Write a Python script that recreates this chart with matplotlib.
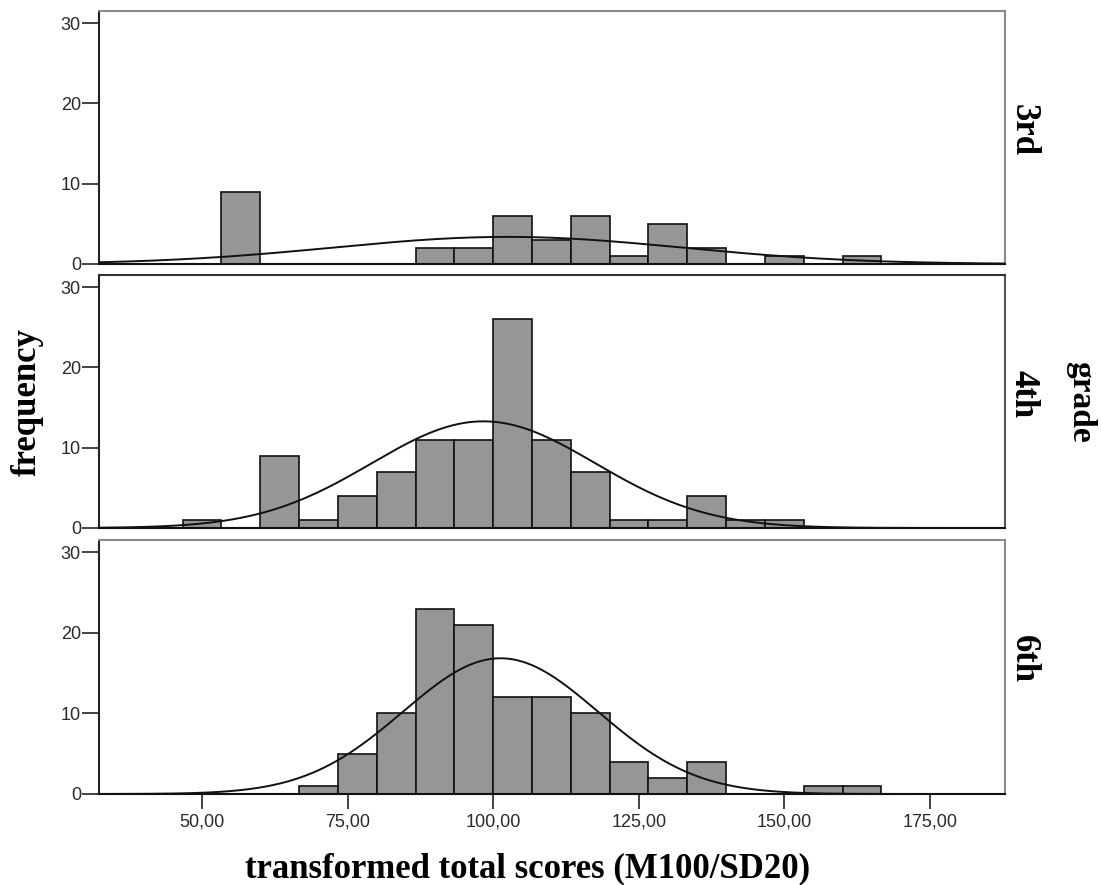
import numpy as np
import matplotlib
matplotlib.use("Agg")
import matplotlib.pyplot as plt

# ---- data ----
bin_width = 20.0 / 3.0
bin_starts = [46.67, 53.33, 60.00, 66.67, 73.33, 80.00, 86.67, 93.33, 100.00,
              106.67, 113.33, 120.00, 126.67, 133.33, 140.00, 146.67, 153.33, 160.00]
grades = ["3rd", "4th", "6th"]
counts_3rd = [0, 9, 0, 0, 0, 0, 2, 2, 6, 3, 6, 1, 5, 2, 0, 1, 0, 1]
counts_4th = [1, 0, 9, 1, 4, 7, 11, 11, 26, 11, 7, 1, 1, 4, 1, 1, 0, 0]
counts_6th = [0, 0, 0, 1, 5, 10, 23, 21, 12, 12, 10, 4, 2, 4, 0, 0, 1, 1]
all_counts = [counts_3rd, counts_4th, counts_6th]
x_ticks = [50, 75, 100, 125, 150, 175]
x_tick_labels = ["50,00", "75,00", "100,00", "125,00", "150,00", "175,00"]
y_ticks = [0, 10, 20, 30]

xlim = (32.3, 187.9)
ylim = (0, 31.5)

W, H = 1101, 885
fig = plt.figure(figsize=(W / 100, H / 100), dpi=100)

def ax_rect(top_px, bot_px, left_px=99, right_px=1005):
    return [left_px / W, (H - bot_px) / H, (right_px - left_px) / W, (bot_px - top_px) / H]

rects = [ax_rect(11, 264), ax_rect(275, 528), ax_rect(540, 794)]
serif = ["Liberation Serif", "DejaVu Serif"]
sans = ["Liberation Sans", "DejaVu Sans"]
top_colors = ["#8a8a8a", "#333333", "#8a8a8a"]
right_colors = ["#8a8a8a", "#555555", "#8a8a8a"]

starts = np.array(bin_starts)
mids = starts + bin_width / 2
xs = np.linspace(xlim[0], xlim[1], 600)

for i, (cnts, g) in enumerate(zip(all_counts, grades)):
    ax = fig.add_axes(rects[i])
    c = np.array(cnts, dtype=float)
    mask = c > 0
    ax.bar(starts[mask], c[mask], width=bin_width, align="edge",
           color="#969696", edgecolor="#111111", linewidth=1.2, zorder=2)
    # fitted normal curve
    n = c.sum()
    mu = (c * mids).sum() / n
    sd = np.sqrt((c * (mids - mu) ** 2).sum() / (n - 1))
    ys = n * bin_width / (sd * np.sqrt(2 * np.pi)) * np.exp(-0.5 * ((xs - mu) / sd) ** 2)
    ax.plot(xs, ys, color="#111111", linewidth=1.4, zorder=3)

    ax.set_xlim(*xlim)
    ax.set_ylim(*ylim)
    ax.set_yticks(y_ticks)
    ax.set_yticklabels([str(t) for t in y_ticks], fontfamily=sans, fontsize=13, color="#2a2a2a")
    ax.tick_params(axis="y", direction="out", length=12, width=1.2, color="#222222", pad=1)
    ax.spines["left"].set_color("#222222")
    ax.spines["bottom"].set_color("#111111")
    ax.spines["top"].set_color(top_colors[i])
    ax.spines["right"].set_color(right_colors[i])
    for s in ax.spines.values():
        s.set_linewidth(1.5)
    if i < 2:
        ax.set_xticks([])
    else:
        ax.set_xticks(x_ticks)
        ax.set_xticklabels(x_tick_labels, fontfamily=sans, fontsize=13, color="#2a2a2a")
        ax.tick_params(axis="x", direction="out", length=11, width=1.2, color="#222222", pad=3)
    ax.text(1.002, 0.53, g, transform=ax.transAxes, rotation=-90, ha="left", va="center",
            fontfamily=serif, fontweight="bold", fontsize=25)

fig.text(27 / W, 1 - 402 / H, "frequency", rotation=90, ha="center", va="center",
         fontfamily=serif, fontweight="bold", fontsize=25)
fig.text(1081 / W, 1 - 402 / H, "grade", rotation=-90, ha="center", va="center",
         fontfamily=serif, fontweight="bold", fontsize=24)
fig.text(528 / W, 1 - 869 / H, "transformed total scores (M100/SD20)", ha="center", va="center",
         fontfamily=serif, fontweight="bold", fontsize=25)

fig.savefig("out.png", dpi=100, facecolor="white")
